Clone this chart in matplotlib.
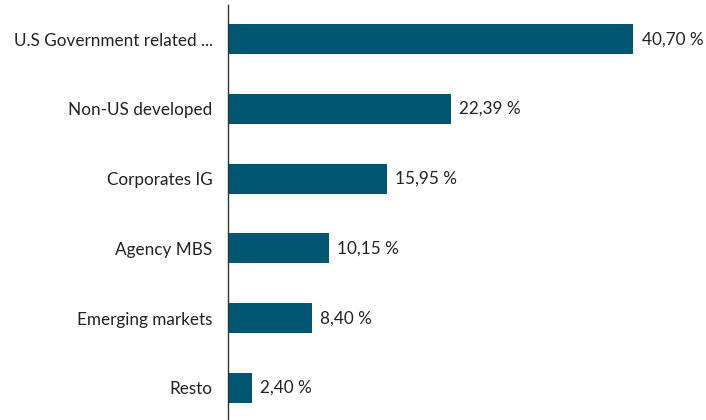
import matplotlib.pyplot as plt

categories = ["U.S Government related ...", "Non-US developed", "Corporates IG",
              "Agency MBS", "Emerging markets", "Resto"]
values = [40.70, 22.39, 15.95, 10.15, 8.40, 2.40]
value_labels = ["40,70 %", "22,39 %", "15,95 %", "10,15 %", "8,40 %", "2,40 %"]

plt.rcParams['font.family'] = ['Lato', 'DejaVu Sans']

fig = plt.figure(figsize=(7.06, 4.2), dpi=100)
ax = fig.add_axes([228 / 706, 0, 1 - 228 / 706, 415 / 420])

pos = list(range(len(categories)))
ax.barh(pos, values, height=0.43, color="#005571")

for p, v, lab in zip(pos, values, value_labels):
    ax.annotate(lab, xy=(v, p), xytext=(6, 0), textcoords="offset points",
                va="center", ha="left", fontsize=12.3, color="#222222")

ax.set_yticks(pos)
ax.set_yticklabels(categories, fontsize=12.3, color="#222222")
ax.tick_params(axis="y", length=0, pad=11)
ax.set_xticks([])
ax.set_xlim(0, 48)
ax.set_ylim(5.46, -0.49)

for s in ["top", "right", "bottom"]:
    ax.spines[s].set_visible(False)
ax.spines["left"].set_color("#333333")
ax.spines["left"].set_linewidth(1)

fig.savefig("out.png", dpi=100)
